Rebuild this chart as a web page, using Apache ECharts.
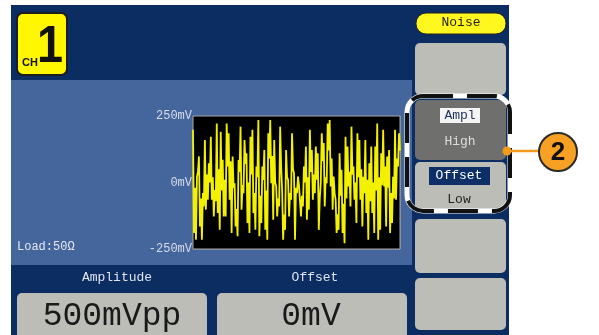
<!DOCTYPE html>
<html><head><meta charset="utf-8">
<script src="https://cdn.jsdelivr.net/npm/echarts@6/dist/echarts.min.js"></script>
<style>html,body{margin:0;padding:0;background:#fff}#c{width:599px;height:335px}</style>
</head><body><div id="c"></div>
<script>
// Noise waveform samples (mV)
const noiseValues = [
 198,-190,-20, -215,22,40, 98,-165,-60, -215,-40,-90, 160,-102,30, -65,72,0, 172,-65,20, -128,-28,-70, 222,-115,50, -178,191,-30,
 85,-128,10, -128,222,60, 185,-65,80, -190,98,-20, -3,-165,-100, -202,85,40, 210,-102,-10, -40,160,70, 110,-152,0, -190,172,30,
 198,-115,-40, -178,60,20, 235,-202,-50, -152,60,10, 122,-178,-30, -215,185,90, 235,-3,100, -140,160,0, -15,-128,-60, -90,210,60,
 -28,-215,-120, -178,122,20, 10,-128,-40, -65,185,50, 35,-215,-20, -40,22,-10, -3,-128,-50, -90,60,0, 135,-140,20, -102,198,40,
 122,-65,30, -40,135,10, 110,-178,-60, -3,185,80, 148,-90,20, -3,222,120, 235,-15,90, -102,22,-40, -65,-190,-120, -178,110,-50,
 48,-190,-80, -228,172,-60, 135,-15,40, -90,210,30, 60,-65,0, -152,185,20, 160,-65,50, -165,22,-40, 160,-115,10, -215,72,-70,
 135,-115,0, -190,135,-30, 222,-215,20, -178,110,-10, 198,-15,60, -165,98,-20, 122,-190,-40, -152,22,-60, 198,-65,90, 60,185,120
];
const yTicks = [-250, 0, 250];
const yUnit = 'mV';
const ampTitle = 'Amplitude', offTitle = 'Offset';
const ampValue = '500mVpp', offValue = '0mV';
const loadText = 'Load:50Ω';
const menuTitle = 'Noise';
const menuItems = [['Ampl','High'],['Offset','Low']];

const navy = '#0b2d62', panel = '#45659d', gray = '#bdbdb7', mono = 'Liberation Mono, DejaVu Sans Mono, monospace';
const chart = echarts.init(document.getElementById('c'));
const seriesData = noiseValues.map((v, i) => [i, v]);
const N = noiseValues.length - 1;

function btn(x, y, w, h, fill, r) { return {type:'rect', shape:{x, y, width:w, height:h, r:r||5}, style:{fill}, z:-5}; }
function txt(x, y, text, size, color, align, extra) {
  return Object.assign({type:'text', x, y, style:{text, font: size + 'px ' + mono, fill: color, align: align||'center', verticalAlign:'middle'}, z:5}, extra||{});
}

chart.setOption({
  animation: false,
  backgroundColor: '#fff',
  grid: {left:193, right:199, top:116, bottom:86, show:true, backgroundColor:'#000', borderColor:'#a8a8a8', borderWidth:1, z:2},
  xAxis: {type:'value', min:0, max:N, interval:N/2, axisLine:{show:false}, axisTick:{show:false}, axisLabel:{show:false},
          splitLine:{show:true, lineStyle:{color:'#8a8a8a', type:'dotted', width:1}}},
  yAxis: {type:'value', min:yTicks[0], max:yTicks[2], interval:250, axisLine:{show:false}, axisTick:{show:false},
          axisLabel:{color:'#d8dcea', fontFamily:mono, fontSize:12, margin:1, formatter: v => v + yUnit},
          splitLine:{show:true, lineStyle:{color:'#8a8a8a', type:'dotted', width:1}}},
  series: [{type:'line', data:seriesData, showSymbol:false, lineStyle:{color:'#f3f000', width:1.8}, z:3}],
  graphic: { elements: [
    {type:'rect', shape:{x:11, y:5, width:498, height:330}, style:{fill:navy}, z:-10},
    {type:'rect', shape:{x:11, y:80, width:401, height:185}, style:{fill:panel}, z:-9},
    // CH1 badge
    {type:'rect', shape:{x:17, y:13, width:50, height:62, r:6}, style:{fill:'#fff700', stroke:'#1c1c1c', lineWidth:2}, z:1},
    {type:'text', x:22, y:63, style:{text:'CH', font:'bold 11px Liberation Sans, Arial', fill:'#111', verticalAlign:'middle'}, z:2},
    {type:'text', x:37, y:48, style:{text:'1', font:'bold 52px Liberation Sans, Arial', fill:'#111', verticalAlign:'middle'}, scaleX:0.9, z:2},
    txt(17, 247, loadText, 12, '#e6e8f0', 'left'),
    // right menu
    {type:'rect', shape:{x:416, y:13, width:90, height:21, r:10}, style:{fill:'#fff71e', stroke:'#222', lineWidth:1}, z:1},
    txt(461, 23, menuTitle, 13, '#222'),
    btn(415, 43, 91, 52, gray),
    btn(415, 100, 91, 60, '#6f6f6d'),
    btn(415, 162, 91, 49, gray),
    btn(415, 219, 91, 54, gray),
    btn(415, 278, 91, 52, gray),
    {type:'rect', shape:{x:440, y:108, width:40, height:15}, style:{fill:'#f4f4f4'}, z:3},
    txt(460, 116, menuItems[0][0], 13, '#1a2e5a'),
    txt(460, 142, menuItems[0][1], 13, '#dedede'),
    {type:'rect', shape:{x:429, y:167, width:61, height:18}, style:{fill:'#0d2e66'}, z:3},
    txt(459, 176, menuItems[1][0], 13, '#ffffff'),
    txt(459, 200, menuItems[1][1], 13, '#222'),
    // dashed callout outline
    {type:'rect', shape:{x:407, y:96, width:103, height:115, r:16}, style:{fill:'none', stroke:'#fff', lineWidth:5}, z:6},
    {type:'rect', shape:{x:407, y:96, width:103, height:115, r:16}, style:{fill:'none', stroke:'#111', lineWidth:4, lineDash:[30,14]}, z:7},
    // orange marker
    {type:'line', shape:{x1:506, y1:151, x2:542, y2:151}, style:{stroke:'#f39c1c', lineWidth:2.5}, z:8},
    {type:'circle', shape:{cx:507, cy:151, r:4.5}, style:{fill:'#f39c1c'}, z:9},
    {type:'circle', shape:{cx:558, cy:152, r:19}, style:{fill:'#f6a123', stroke:'#2a2a2a', lineWidth:2}, z:8},
    {type:'text', x:558, y:153, style:{text:'2', font:'bold 26px Liberation Sans, Arial', fill:'#111', align:'center', verticalAlign:'middle'}, z:9},
    // bottom parameter area
    txt(117, 278, ampTitle, 13, '#e0e4ee'),
    txt(315, 278, offTitle, 13, '#e0e4ee'),
    btn(17, 293, 190, 50, gray),
    btn(217, 293, 190, 50, gray),
    txt(112, 316, ampValue, 33, '#1a1a1a'),
    txt(311, 316, offValue, 33, '#1a1a1a')
  ]}
});
</script></body></html>
